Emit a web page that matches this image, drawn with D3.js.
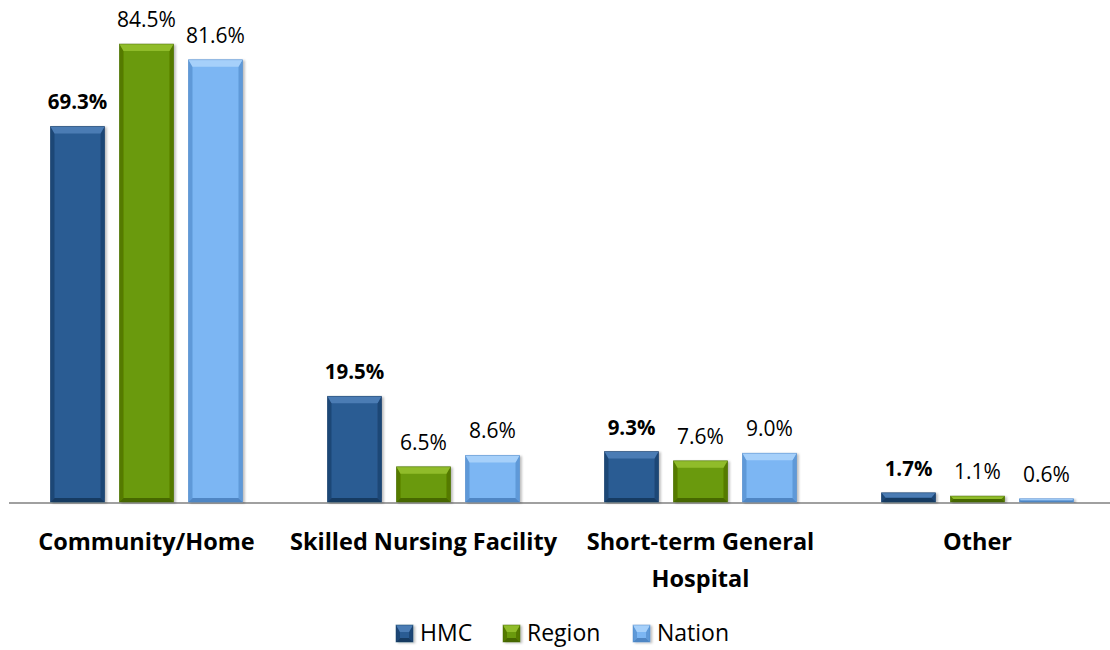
<!DOCTYPE html>
<html>
<head>
<meta charset="utf-8">
<script src="https://cdn.jsdelivr.net/npm/d3@7"></script>
<style>
  body { margin: 0; background: #fff; }
  svg { display: block; font-family: "Open Sans", sans-serif; }
</style>
</head>
<body>
<svg id="chart" width="1110" height="650"></svg>
<script>
// discharge destinations
const categories = ["Community/Home", "Skilled Nursing Facility", "Short-term General Hospital", "Other"];
const seriesNames = ["HMC", "Region", "Nation"];
const hmcValues = [69.3, 19.5, 9.3, 1.7];
const regionValues = [84.5, 6.5, 7.6, 1.1];
const nationValues = [81.6, 8.6, 9.0, 0.6];

const colors = {
    HMC: { main: "#2b5c93", top: "#4b7cb4", side: "#1f4676", bottom: "#183a62" },
    Region: { main: "#6b9a07", top: "#90bc2c", side: "#547a04", bottom: "#466703" },
    Nation: { main: "#7bb6f3", top: "#a6d0fa", side: "#5e99d8", bottom: "#4f86c4" }
};

const values = { HMC: hmcValues, Region: regionValues, Nation: nationValues };

const svg = d3.select("#chart");
const baseY = 502;

const x0 = d3.scaleBand().domain(categories).range([8, 1116]);
const x1 = d3.scaleBand().domain(seriesNames).range([0, x0.bandwidth()])
    .paddingInner(0.217).paddingOuter(0.616);
const y = d3.scaleLinear().domain([0, 84.5]).range([baseY, 44]);

// soft shadow
const defs = svg.append("defs");
const f = defs.append("filter").attr("id", "shadow").attr("x", "-20%").attr("y", "-20%")
    .attr("width", "150%").attr("height", "150%");
f.append("feDropShadow").attr("dx", 2).attr("dy", 1).attr("stdDeviation", 1.2)
    .attr("flood-color", "#000").attr("flood-opacity", 0.25);

function bevelBar(g, x, yTop, w, h, c) {
    const b = Math.min(7, h / 2, w / 2);
    const s = Math.min(4, h / 2);
    const gb = g.append("g").attr("filter", "url(#shadow)");
    gb.append("rect").attr("x", x).attr("y", yTop).attr("width", w).attr("height", h).attr("fill", c.main);
    // left / right sides
    gb.append("path").attr("fill", c.side)
        .attr("d", `M${x},${yTop}L${x + s},${yTop + b}L${x + s},${yTop + h - s}L${x},${yTop + h}Z`);
    gb.append("path").attr("fill", c.side)
        .attr("d", `M${x + w},${yTop}L${x + w - s},${yTop + b}L${x + w - s},${yTop + h - s}L${x + w},${yTop + h}Z`);
    // bottom
    gb.append("path").attr("fill", c.bottom)
        .attr("d", `M${x},${yTop + h}L${x + s},${yTop + h - s}L${x + w - s},${yTop + h - s}L${x + w},${yTop + h}Z`);
    // top
    gb.append("path").attr("fill", c.top)
        .attr("d", `M${x},${yTop}L${x + w},${yTop}L${x + w - s},${yTop + b}L${x + s},${yTop + b}Z`);
    gb.append("rect").attr("x", x).attr("y", yTop).attr("width", w).attr("height", h)
        .attr("fill", "none").attr("stroke", c.bottom).attr("stroke-width", 0.8).attr("stroke-opacity", 0.6);
}

// baseline
svg.append("line").attr("x1", 9).attr("x2", 1110).attr("y1", baseY + 1).attr("y2", baseY + 1)
    .attr("stroke", "#a0a0a0").attr("stroke-width", 2);

const groups = svg.append("g").selectAll("g").data(categories).join("g")
    .attr("transform", d => `translate(${x0(d)},0)`);

groups.each(function (cat, i) {
    const g = d3.select(this);
    seriesNames.forEach(name => {
        const v = values[name][i];
        const bx = x1(name);
        const top = y(v);
        bevelBar(g, bx, top, x1.bandwidth(), baseY - top, colors[name]);
        g.append("text")
            .attr("x", bx + x1.bandwidth() / 2)
            .attr("y", top - 17)
            .attr("text-anchor", "middle")
            .attr("font-size", name === "HMC" ? 20.5 : 21)
            .attr("font-weight", name === "HMC" ? "bold" : "normal")
            .attr("fill", "#000")
            .text(v.toFixed(1) + "%");
    });
});

// category labels (wrapped like the original)
const labelLines = {
    "Community/Home": ["Community/Home"],
    "Skilled Nursing Facility": ["Skilled Nursing Facility"],
    "Short-term General Hospital": ["Short-term General", "Hospital"],
    "Other": ["Other"]
};
categories.forEach(cat => {
    const t = svg.append("text")
        .attr("x", x0(cat) + x0.bandwidth() / 2)
        .attr("y", 550)
        .attr("text-anchor", "middle")
        .attr("font-size", 23.5)
        .attr("font-weight", "bold");
    labelLines[cat].forEach((ln, k) => {
        t.append("tspan").attr("x", x0(cat) + x0.bandwidth() / 2).attr("dy", k === 0 ? 0 : 37).text(ln);
    });
});

// legend
const legendX = [396, 503, 633];
seriesNames.forEach((name, i) => {
    const lg = svg.append("g");
    bevelBar(lg, legendX[i], 625, 17, 17, colors[name]);
    lg.append("text").attr("x", legendX[i] + 24).attr("y", 641)
        .attr("font-size", 23).attr("fill", "#000").text(name);
});
</script>
</body>
</html>
